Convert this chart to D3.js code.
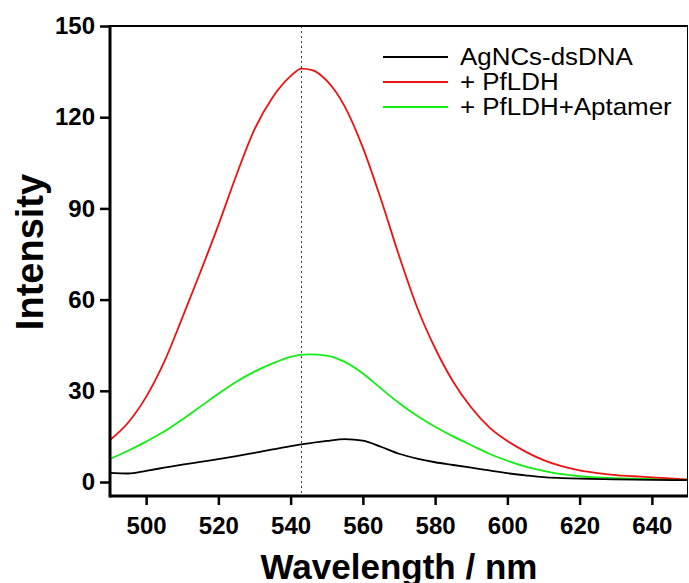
<!DOCTYPE html>
<html lang="en">
<head>
  <meta charset="UTF-8">
  <title>Intensity vs Wavelength</title>
  <script src="https://d3js.org/d3.v7.min.js"></script>
  <style>
    body { margin: 0; background: #fff; }
    svg { display: block; font-family: "Liberation Sans", Arial, sans-serif; }
  </style>
</head>
<body>
  <div id="chart"></div>
  <script>
    // Emission spectra
    const blackWl = [490, 495, 500, 505, 510, 515, 520, 525, 530, 535, 540, 545, 550, 555, 560, 565, 570, 575, 580, 585, 590, 595, 600, 605, 610, 615, 620, 630, 640, 650];
    const blackVals = [3, 2.8, 3.7, 4.7, 5.7, 6.6, 7.5, 8.5, 9.6, 10.7, 11.8, 12.7, 13.5, 14.1, 13.6, 11.6, 9.3, 7.7, 6.5, 5.6, 4.7, 3.8, 2.9, 2.2, 1.6, 1.3, 1.1, 0.9, 0.7, 0.6];

    const redWl = [490, 495, 500, 505, 510, 515, 520, 525, 530, 535, 540, 543, 546, 550, 555, 560, 565, 570, 575, 580, 585, 590, 595, 600, 605, 610, 615, 620, 625, 630, 635, 640, 645, 650];
    const redVals = [13.8, 19.5, 28, 39.5, 54, 69, 84.5, 101, 116, 126.5, 133.5, 136, 135.5, 132, 123.5, 110, 93, 74.5, 57.5, 44, 33, 24.5, 18, 13.5, 10, 7.2, 5.2, 3.8, 2.9, 2.3, 1.9, 1.5, 1.2, 0.8];

    const greenWl = [490, 495, 500, 505, 510, 515, 520, 525, 530, 535, 540, 545, 550, 555, 560, 565, 570, 575, 580, 585, 590, 595, 600, 605, 610, 615, 620, 625, 630, 635, 640, 645, 650];
    const greenVals = [7.6, 10.3, 13.3, 16.6, 20.6, 24.8, 29, 33, 36.3, 39, 41.2, 42, 41.6, 39.5, 35.7, 30.8, 26, 21.8, 18.2, 15, 12.1, 9.3, 7, 5.1, 3.7, 2.6, 1.9, 1.5, 1.3, 1.1, 1.0, 0.9, 0.8];

    const seriesNames = ["AgNCs-dsDNA", "+ PfLDH", "+ PfLDH+Aptamer"];
    const seriesColors = ["#000000", "#ee1111", "#11ee11"];
    const xTicks = [500, 520, 540, 560, 580, 600, 620, 640];
    const yTicks = [0, 30, 60, 90, 120, 150];
    const peakLine = 543;

    const width = 689, height = 583;
    const margin = { top: 26, right: 1, bottom: 87, left: 110 };
    const yMin = -4.6;

    const svg = d3.select("#chart").append("svg")
      .attr("width", width)
      .attr("height", height);

    const x = d3.scaleLinear().domain([490, 650]).range([margin.left, width - margin.right]);
    const y = d3.scaleLinear().domain([yMin, 150]).range([height - margin.bottom, margin.top]);

    // dotted peak marker
    svg.append("line")
      .attr("x1", x(peakLine)).attr("x2", x(peakLine))
      .attr("y1", y(150)).attr("y2", y(yMin))
      .attr("stroke", "#333")
      .attr("stroke-width", 1)
      .attr("stroke-dasharray", "2,3");

    const line = d3.line()
      .x(d => x(d[0]))
      .y(d => y(d[1]))
      .curve(d3.curveMonotoneX);

    const series = [
      d3.zip(blackWl, blackVals),
      d3.zip(redWl, redVals),
      d3.zip(greenWl, greenVals)
    ];

    [2, 1, 0].forEach(i => {
      svg.append("path")
        .datum(series[i])
        .attr("fill", "none")
        .attr("stroke", seriesColors[i])
        .attr("stroke-width", 1.8)
        .attr("d", line);
    });

    // frame (top and right)
    svg.append("line")
      .attr("x1", x(490)).attr("x2", x(650))
      .attr("y1", y(150)).attr("y2", y(150))
      .attr("stroke", "#000").attr("stroke-width", 2);
    svg.append("line")
      .attr("x1", x(650) - 0.5).attr("x2", x(650) - 0.5)
      .attr("y1", y(150)).attr("y2", y(yMin))
      .attr("stroke", "#000").attr("stroke-width", 1);

    // axes: minor ticks first, then labelled major ticks
    const xAxis = svg.append("g")
      .attr("transform", `translate(0,${y(yMin)})`);
    xAxis.call(d3.axisBottom(x).tickValues(d3.range(490, 651, 10)).tickSize(5).tickFormat(""));
    xAxis.call(d3.axisBottom(x).tickValues(xTicks).tickSize(9).tickPadding(12).tickFormat(d3.format("d")));

    const yAxis = svg.append("g")
      .attr("transform", `translate(${x(490)},0)`);
    yAxis.call(d3.axisLeft(y).tickValues(d3.range(0, 151, 15)).tickSize(5).tickFormat(""));
    yAxis.call(d3.axisLeft(y).tickValues(yTicks).tickSize(10).tickPadding(5).tickFormat(d3.format("d")));

    xAxis.selectAll(".domain").remove();
    yAxis.selectAll(".domain").remove();
    svg.append("line")
      .attr("x1", x(490)).attr("x2", x(650))
      .attr("y1", y(yMin)).attr("y2", y(yMin))
      .attr("stroke", "#000").attr("stroke-width", 3);
    svg.append("line")
      .attr("x1", x(490)).attr("x2", x(490))
      .attr("y1", y(150) - 1).attr("y2", y(yMin) + 1.5)
      .attr("stroke", "#000").attr("stroke-width", 3);

    svg.selectAll(".tick line").attr("stroke-width", 2.5);
    svg.selectAll(".tick text")
      .attr("font-size", 24)
      .attr("font-weight", "bold")
      .attr("font-family", "Liberation Sans, Arial, sans-serif")
      .attr("fill", "#000");

    // axis titles
    svg.append("text")
      .attr("x", (x(490) + x(650)) / 2)
      .attr("y", 579)
      .attr("text-anchor", "middle")
      .attr("font-size", 35)
      .attr("font-weight", "bold")
      .text("Wavelength / nm");

    svg.append("text")
      .attr("transform", "translate(43,252) rotate(-90)")
      .attr("text-anchor", "middle")
      .attr("font-size", 38)
      .attr("font-weight", "bold")
      .text("Intensity");

    // legend
    const legend = svg.append("g").attr("transform", "translate(383,57)");
    seriesNames.forEach((name, i) => {
      const row = legend.append("g").attr("transform", `translate(0,${i * 25})`);
      row.append("line")
        .attr("x1", 0).attr("x2", 65)
        .attr("stroke", seriesColors[i])
        .attr("stroke-width", 2);
      row.append("text")
        .attr("transform", "translate(77,8) scale(1.08,1)")
        .attr("font-size", 24)
        .text(name);
    });
  </script>
</body>
</html>
